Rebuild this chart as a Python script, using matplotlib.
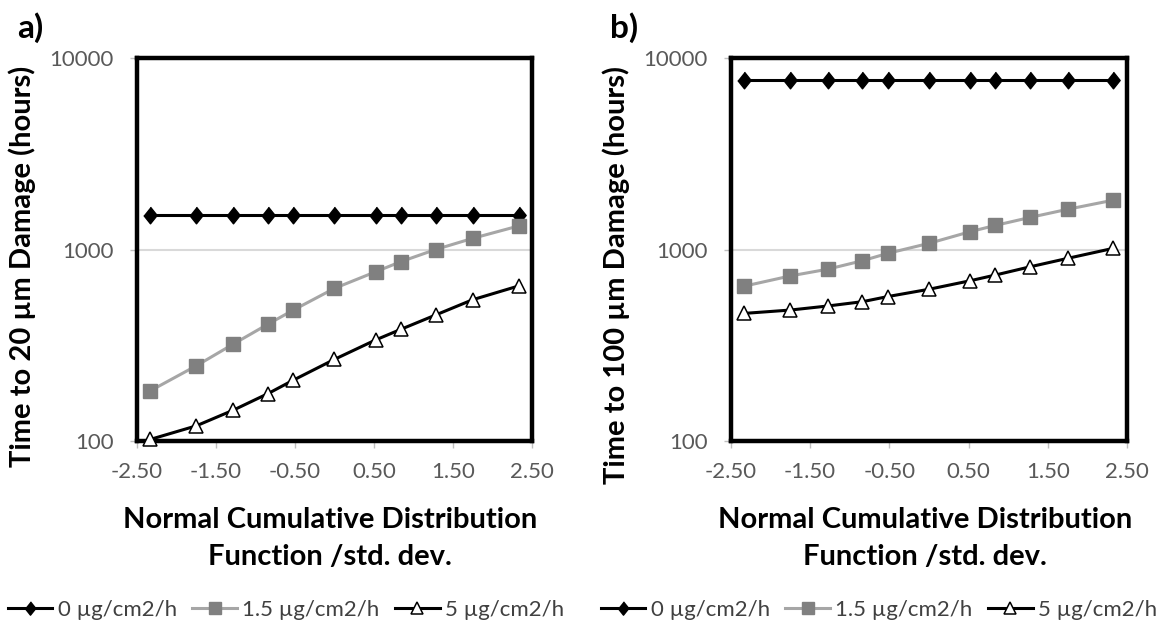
import numpy as np
import matplotlib
matplotlib.use("Agg")
import matplotlib.pyplot as plt
from matplotlib.lines import Line2D

plt.rc("font", family=["Lato", "DejaVu Sans"])

# z-scores of the normal CDF
x = [-2.33, -1.75, -1.28, -0.84, -0.52, 0.0, 0.52, 0.84, 1.28, 1.75, 2.33]

# a) time to 20 um damage (hours)
a_0 = [1510] * 11
a_15 = [183, 247, 321, 408, 483, 627, 765, 864, 1000, 1144, 1327]
a_5 = [102, 120, 145, 177, 208, 267, 337, 383, 455, 547, 645]

# b) time to 100 um damage (hours)
b_0 = [7670] * 11
b_15 = [644, 728, 789, 874, 955, 1077, 1239, 1337, 1472, 1622, 1811]
b_5 = [464, 483, 507, 534, 568, 620, 687, 736, 813, 899, 1015]

names = ["0 µg/cm2/h", "1.5 µg/cm2/h", "5 µg/cm2/h"]
xticks = [-2.5, -1.5, -0.5, 0.5, 1.5, 2.5]
yticks = [100, 1000, 10000]

diamond = [(0, 1), (0.8, 0), (0, -1), (-0.8, 0)]
styles = [
    dict(color="black", lw=2.2, marker=diamond, ms=12, mfc="black", mec="black", mew=1),
    dict(color="#a6a6a6", lw=2.2, marker="s", ms=10, mfc="#808080", mec="#808080", mew=1),
    dict(color="black", lw=2.2, marker="^", ms=10, mfc="white", mec="black", mew=1.1),
]

fig = plt.figure(figsize=(11.63, 6.26), dpi=100)
ax_a = fig.add_axes([0.1178, 0.2955, 0.3396, 0.6118])
ax_b = fig.add_axes([0.6285, 0.2955, 0.3405, 0.6118])

panels = [
    (ax_a, [a_0, a_15, a_5], "Time to 20 µm Damage (hours)", "a)", (-0.29, 0.457), 0.489, 286),
    (ax_b, [b_0, b_15, b_5], "Time to 100 µm Damage (hours)", "b)", (-0.289, 0.433), 0.49, 879),
]

for ax, series, ylab, tag, ypos, xlab_x, leg_x in panels:
    for vals, st in zip(series, styles):
        ax.plot(x, vals, clip_on=False, zorder=5, **st)

    ax.set_yscale("log")
    ax.set_ylim(100, 10000)
    ax.set_xlim(-2.5, 2.5)
    ax.set_xticks(xticks)
    ax.set_xticklabels(["%.2f" % t for t in xticks])
    ax.set_yticks(yticks)
    ax.set_yticklabels([str(t) for t in yticks])
    ax.yaxis.set_minor_locator(matplotlib.ticker.NullLocator())
    ax.tick_params(direction="out", length=5, width=1, color="#bfbfbf",
                   labelcolor="#595959", labelsize=16)
    ax.tick_params(axis="x", pad=10)
    ax.tick_params(axis="y", pad=12)
    ax.axhline(1000, color="#d9d9d9", lw=1.5, zorder=1)
    for sp in ax.spines.values():
        sp.set_linewidth(3.2)
        sp.set_color("black")
        sp.set_zorder(4)

    ax.text(ypos[0], ypos[1], ylab, transform=ax.transAxes, rotation=90,
            ha="center", va="center", fontsize=21, fontweight="bold")
    ax.text(xlab_x, -0.255, "Normal Cumulative Distribution\nFunction /std. dev.",
            transform=ax.transAxes, ha="center", va="center", fontsize=21,
            fontweight="bold", linespacing=1.5)

    pos = ax.get_position()
    fig.text(pos.x0 - 107 / 1163, 1 - 28 / 626, tag, ha="center", va="center",
             fontsize=24, fontweight="bold")

    handles = [Line2D([], [], **st) for st in styles]
    fig.legend(handles, names, loc="center", bbox_to_anchor=(leg_x / 1163, 1 - 610 / 626),
               ncol=3, frameon=False, fontsize=16, handlelength=2.0, handletextpad=0.25,
               columnspacing=0.7, markerscale=0.8, labelcolor="#404040")

fig.savefig("out.png", dpi=100)
